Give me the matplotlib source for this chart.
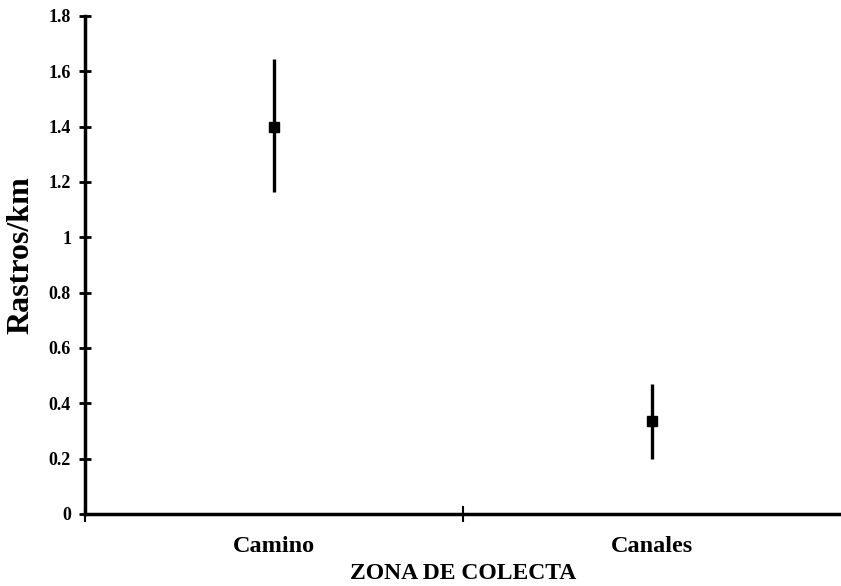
import matplotlib.pyplot as plt

plt.rcParams['font.family'] = ['Liberation Serif', 'DejaVu Serif']
plt.rcParams['font.weight'] = 'bold'

zonas = ["Camino", "Canales"]
medias = [1.40, 0.335]
err_sup = [0.245, 0.135]
err_inf = [0.235, 0.135]

fig = plt.figure(figsize=(8.41, 5.86), dpi=100)
ax = fig.add_axes([0.101, 0.123, 0.899, 0.850])

xpos = [0.5, 1.5]
ax.errorbar(xpos, medias, yerr=[err_inf, err_sup], fmt='s', color='black',
            markersize=7, elinewidth=2.4, capsize=0)

ax.set_xlim(0, 2)
ax.set_ylim(0, 1.8)
ax.set_yticks([0, 0.2, 0.4, 0.6, 0.8, 1.0, 1.2, 1.4, 1.6, 1.8])
ax.set_yticklabels(["0", "0.2", "0.4", "0.6", "0.8", "1", "1.2", "1.4", "1.6", "1.8"], fontsize=13)
ax.set_xticks([0, 1])
ax.set_xticklabels([])
ax.set_xticks(xpos, minor=True)
ax.set_xticklabels(zonas, minor=True, fontsize=17.5)
ax.tick_params(axis='x', which='minor', length=0, pad=16)
ax.tick_params(axis='x', which='major', direction='inout', length=12, width=1.5)
ax.tick_params(axis='y', direction='inout', length=8, width=2, pad=6)

for s in ['top', 'right']:
    ax.spines[s].set_visible(False)
for s in ['left', 'bottom']:
    ax.spines[s].set_linewidth(2.5)

ax.set_ylabel("Rastros/km", fontsize=23, fontweight='bold')
ax.yaxis.set_label_coords(-0.066, 0.52)
ax.set_xlabel("ZONA DE COLECTA", fontsize=17, fontweight='bold', labelpad=4)

fig.savefig("out.png", dpi=100)
